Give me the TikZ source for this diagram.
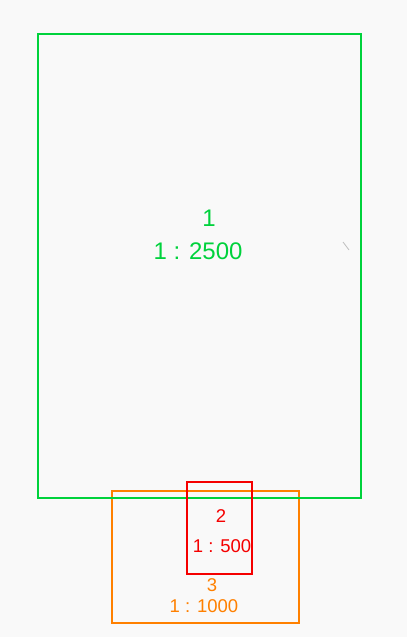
\documentclass[tikz,border=0pt]{standalone}
\usepackage{fontspec}
\setmainfont{Liberation Sans}
\usepackage{tikz}
\usetikzlibrary{positioning}
\definecolor{bggray}{RGB}{249,249,249}
\definecolor{zonegreen}{RGB}{0,210,60}
\definecolor{zonered}{RGB}{245,0,0}
\definecolor{zoneorange}{RGB}{255,128,0}
\definecolor{tickgray}{RGB}{190,190,190}

\begin{document}
\begin{tikzpicture}[x=1pt, y=-1pt, every node/.style={inner sep=0pt, outer sep=0pt}]
            % Background (fixes the page size)
            \fill[bggray] (0,0) rectangle (407,637);
            \useasboundingbox (0,0) rectangle (407,637);

            % Zone frames: orange below, green, red on top
            \node[draw=zoneorange, line width=1.5pt, minimum width=187pt, minimum height=132pt] (z3) at (205.5,557) {};
            \node[draw=zonegreen, line width=1.5pt, minimum width=323pt, minimum height=464pt] (z1) at (199.5,266) {};
            \node[draw=zonered, line width=1.5pt, minimum width=65pt, minimum height=92pt] (z2) at (219.5,528) {};

            % Zone labels
            \node[text=zonegreen, font=\fontsize{24}{28}\selectfont] (n1) at (209,218) {1};
            \node[text=zonegreen, font=\fontsize{24}{28}\selectfont] (s1) at (198,251.5) {1 : 2500};
            \node[text=zonered, font=\fontsize{18.5}{22}\selectfont] (n2) at (221,516) {2};
            \node[text=zonered, font=\fontsize{18.5}{22}\selectfont] (s2) at (222,546) {1 : 500};
            \node[text=zoneorange, font=\fontsize{18.5}{22}\selectfont] (n3) at (212,585) {3};
            \node[text=zoneorange, font=\fontsize{18.5}{22}\selectfont] (s3) at (204,606.5) {1 : 1000};

            % Small stray tick inside zone 1
            \coordinate (t1) at (343,242);
            \coordinate (t2) at (349,250);
            \draw[tickgray, line width=0.8pt] (t1) -- (t2);
        \end{tikzpicture}
\end{document}
